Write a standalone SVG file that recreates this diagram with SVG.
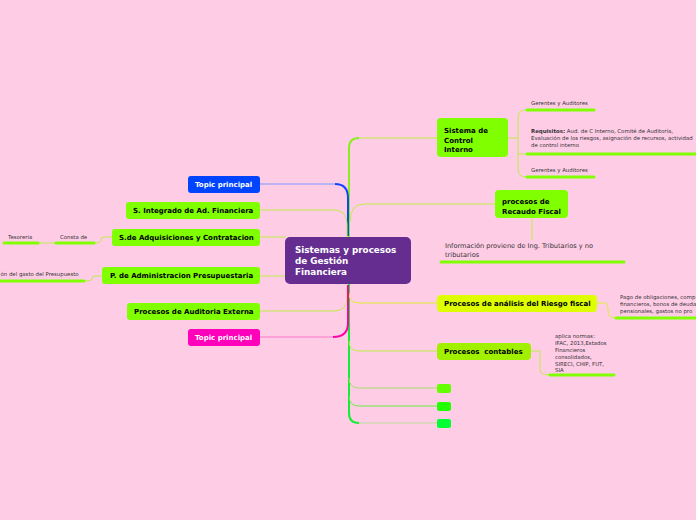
<svg xmlns="http://www.w3.org/2000/svg" width="696" height="520" viewBox="0 0 696 520">
<style>
.nb{font-family:"DejaVu Sans",Verdana,sans-serif;font-weight:bold;font-size:7px;fill:#000}
.nw{font-family:"DejaVu Sans",Verdana,sans-serif;font-weight:bold;font-size:7px;fill:#fff}
.c{font-family:"DejaVu Sans",Verdana,sans-serif;font-weight:bold;font-size:8.8px;fill:#fff}
.s{font-family:"DejaVu Sans",Verdana,sans-serif;font-size:5.4px;fill:#333}
.m{font-family:"DejaVu Sans",Verdana,sans-serif;font-size:6.6px;fill:#333}
.ul{stroke:#80FF00;stroke-width:3;stroke-linecap:round}
.ln{fill:none;stroke-width:1}
.tr{fill:none;stroke-width:2}
</style>
<rect width="696" height="520" fill="#FFCCE6"/>
<g id="connectors">
<path class="tr" d="M349,240 L349,148 Q349,138 359,138" stroke="#88EE22"/>
<path class="ln" d="M359,138 L437,138" stroke="#BBEE44"/>
<path class="ln" d="M350,222 Q350,204 364,204 L495,204" stroke="#BBEE44"/>
<path class="ln" d="M260,184 L335,184" stroke="#7799FF"/>
<path class="tr" d="M335,184 Q348,184 348,198 L348,236" stroke="#1144FF"/>
<path class="ln" d="M260,210 L334,210 Q347,210 347,224 L347,237" stroke="#BBEE44"/>
<path class="ln" d="M260,237 L286,237" stroke="#BBEE44"/>
<path class="ln" d="M260,276 L286,276" stroke="#BBEE44"/>
<path class="tr" d="M349,284 L349,413 Q349,423 359,423" stroke="#11EE33"/>
<path class="ln" d="M359,423 L437,423" stroke="#BBDD99"/>
<path class="ln" d="M349,378 Q349,388 359,388 L437,388" stroke="#AADD66"/>
<path class="ln" d="M349,396 Q349,406 359,406 L437,406" stroke="#66EE44"/>
<path class="ln" d="M349,341 Q349,351 359,351 L437,351" stroke="#BBEE44"/>
<path class="ln" d="M349,293 Q349,303 359,303 L437,303" stroke="#DDEE33"/>
<path class="ln" d="M260,311 L334,311 Q347,311 347,298 L347,285" stroke="#BBEE44"/>
<path class="ln" d="M260,337 L333,337" stroke="#FF77CC"/>
<path class="tr" d="M333,337 Q348,337 348,323 L348,285" stroke="#FF00AA"/>
<path class="ln" d="M508,138 L518,138 M526,110 Q518,110 518,118 L518,169 Q518,177 526,177 M518,154 L526,154" stroke="#BBEE44"/>
<path class="ln" d="M532,218 L532,240" stroke="#BBEE44"/>
<path class="ln" d="M597,303 L605,303 Q608,303 608,310 Q608,318 615,318" stroke="#DDEE33"/>
<path class="ln" d="M531,351 L540,351 L540,370 Q540,375 549,375" stroke="#BBEE44"/>
<path class="ln" d="M112,237 L104,237 Q101,237 101,240 Q101,243 95,243" stroke="#BBEE44"/>
<path class="ln" d="M38,243 L55,243" stroke="#BBEE44"/>
<path class="ln" d="M102,276 L95,276 Q92,276 92,279 Q92,281 85,281" stroke="#BBEE44"/>
</g>
<g id="central">
<rect x="285" y="237" width="126" height="47" rx="5" fill="#662D91"/>
<text class="c" x="295" y="253">Sistemas y procesos</text>
<text class="c" x="295" y="264">de Gestión</text>
<text class="c" x="295" y="275">Financiera</text>
</g>
<g id="control-interno">
<rect x="437" y="118" width="71" height="39" rx="4" fill="#80FF00"/>
<text class="nb" x="444" y="133">Sistema de</text>
<text class="nb" x="444" y="143">Control</text>
<text class="nb" x="444" y="152">Interno</text>
</g>
<g id="gerentes-1">
<text class="s" x="531" y="105">Gerentes y Auditores</text>
<line class="ul" x1="527" y1="110" x2="594" y2="110"/>
</g>
<g id="requisitos">
<text class="s" x="531" y="133"><tspan font-weight="bold">Requisitos:</tspan> Aud. de C Interno, Comité de Auditoría,</text>
<text class="s" x="531" y="140">Evaluación de los riesgos, asignación de recursos, actividad</text>
<text class="s" x="531" y="147">de control interno</text>
<line class="ul" x1="527" y1="154" x2="698" y2="154"/>
</g>
<g id="gerentes-2">
<text class="s" x="531" y="172">Gerentes y Auditores</text>
<line class="ul" x1="527" y1="177" x2="594" y2="177"/>
</g>
<g id="recaudo">
<rect x="495" y="190" width="73" height="28" rx="4" fill="#80FF00"/>
<text class="nb" x="502" y="204">procesos de</text>
<text class="nb" x="502" y="214">Recaudo Fiscal</text>
</g>
<g id="informacion">
<text class="m" x="445" y="248">Información proviene de Ing. Tributarios y no</text>
<text class="m" x="445" y="257">tributarios</text>
<line class="ul" x1="441" y1="262" x2="624" y2="262"/>
</g>
<g id="riesgo">
<rect x="437" y="295" width="160" height="17" rx="4" fill="#DDFF00"/>
<text class="nb" x="444" y="306">Procesos de análisis del Riesgo fiscal</text>
</g>
<g id="pago">
<text class="s" x="620" y="299">Pago de obligaciones, comp</text>
<text class="s" x="620" y="306">financieros, bonos de deuda</text>
<text class="s" x="620" y="313">pensionales, gastos no pro</text>
<line class="ul" x1="616" y1="318" x2="698" y2="318"/>
</g>
<g id="contables">
<rect x="437" y="343" width="94" height="17" rx="4" fill="#A0F000"/>
<text class="nb" x="444" y="354" xml:space="preserve">Procesos  contables</text>
</g>
<g id="aplica">
<text class="s" x="555" y="338">aplica normas:</text>
<text class="s" x="555" y="345">IFAC, 2013,Estados</text>
<text class="s" x="555" y="352">Financieros</text>
<text class="s" x="555" y="359">consolidados,</text>
<text class="s" x="555" y="366">SIRECI, CHIP, FUT,</text>
<text class="s" x="555" y="372">SIA</text>
<line class="ul" x1="550" y1="375" x2="614" y2="375"/>
</g>
<g id="small-1"><rect x="437" y="384" width="14" height="9" rx="2" fill="#66FF00"/></g>
<g id="small-2"><rect x="437" y="402" width="14" height="9" rx="2" fill="#22FF00"/></g>
<g id="small-3"><rect x="437" y="419" width="14" height="9" rx="2" fill="#00FF33"/></g>
<g id="topic-blue">
<rect x="188" y="176" width="72" height="17" rx="3" fill="#0044FF"/>
<text class="nw" x="195" y="187">Topic principal</text>
</g>
<g id="integrado">
<rect x="126" y="202" width="134" height="17" rx="3" fill="#80FF00"/>
<text class="nb" x="133" y="213">S. Integrado de Ad. Financiera</text>
</g>
<g id="adquisiciones">
<rect x="112" y="229" width="148" height="17" rx="3" fill="#80FF00"/>
<text class="nb" x="119" y="240">S.de Adquisiciones y Contratacion</text>
</g>
<g id="consta">
<text class="s" x="60" y="239">Consta de</text>
<line class="ul" x1="56" y1="243" x2="94" y2="243"/>
</g>
<g id="tesoreria">
<text class="s" x="8" y="239">Tesoreria</text>
<line class="ul" x1="4" y1="243" x2="38" y2="243"/>
</g>
<g id="presupuestaria">
<rect x="102" y="267" width="158" height="17" rx="3" fill="#80FF00"/>
<text class="nb" x="110" y="278">P. de Administracion Presupuestaria</text>
</g>
<g id="gasto">
<text class="s" x="0.5" y="276">ón del gasto del Presupuesto</text>
<line class="ul" x1="0" y1="281" x2="84" y2="281"/>
</g>
<g id="auditoria">
<rect x="127" y="303" width="133" height="17" rx="3" fill="#80FF00"/>
<text class="nb" x="134" y="314">Procesos de Auditoria Externa</text>
</g>
<g id="topic-magenta">
<rect x="188" y="329" width="72" height="17" rx="3" fill="#FF00BB"/>
<text class="nw" x="195" y="340">Topic principal</text>
</g>
</svg>
